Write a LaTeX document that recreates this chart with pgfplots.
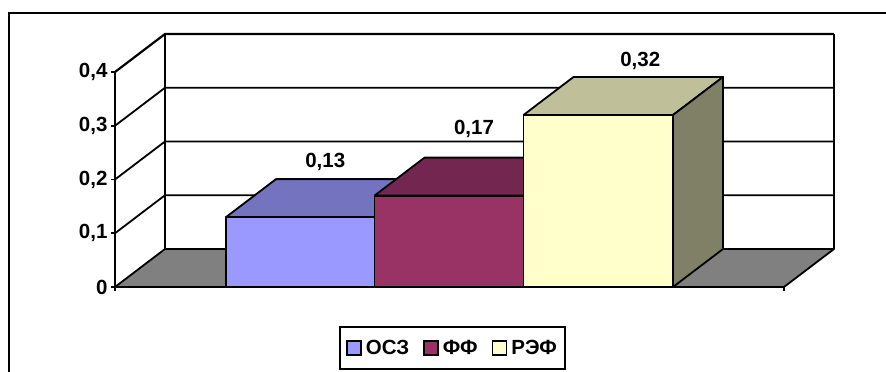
\documentclass[border=0pt]{standalone}
\usepackage{pgfplots}
\pgfplotsset{compat=1.18}
\usepackage{fontspec}
\setmainfont{Liberation Sans}
\definecolor{barA}{HTML}{9999FF}
\definecolor{barAtop}{HTML}{7373BF}
\definecolor{barB}{HTML}{993366}
\definecolor{barBtop}{HTML}{732650}
\definecolor{barC}{HTML}{FFFFCC}
\definecolor{barCtop}{HTML}{BFBF99}
\definecolor{barCside}{HTML}{808066}
\definecolor{floorgray}{HTML}{808080}
\newcommand{\chartfont}{\fontsize{20.5}{24}\selectfont\bfseries}
\begin{document}
\begin{tikzpicture}[x=1pt,y=1pt]
\useasboundingbox (0,0) rectangle (886,372);
% outer chart frame, open towards the right and bottom edges
\draw[line width=2pt] (9,0) -- (9,359) -- (886,359);

% perspective part: x along the front edge, y is depth, z is the value
\begin{axis}[
  anchor=origin, at={(115pt,85pt)},
  x={(1pt,0pt)}, y={(50pt,38pt)}, z={(0pt,537.5pt)},
  xmin=0, xmax=669, ymin=0, ymax=1, zmin=0, zmax=0.4,
  hide axis, clip=false, no markers,
  every axis plot/.append style={line width=1.8pt, line join=round, solid},
]
% floor
\addplot3[fill=floorgray, draw=black] coordinates {(0,0,0) (669,0,0) (669,1,0) (0,1,0) (0,0,0)};
% walls and grid lines
\addplot3[black] coordinates {(0,0,0.1) (0,1,0.1) (669,1,0.1)};
\addplot3[black] coordinates {(0,0,0.2) (0,1,0.2) (669,1,0.2)};
\addplot3[black] coordinates {(0,0,0.3) (0,1,0.3) (669,1,0.3)};
\addplot3[black, line width=2.2pt] coordinates {(0,0,0.4) (0,1,0.4) (669,1,0.4)};
\addplot3[black] coordinates {(0,1,0) (0,1,0.4)};
\addplot3[black] coordinates {(669,1,0) (669,1,0.4)};
% ОСЗ
\addplot3[fill=barAtop, draw=black] coordinates {(111,0,0.13) (259.5,0,0.13) (259.5,1,0.13) (111,1,0.13) (111,0,0.13)};
\addplot3[fill=barA, draw=black] coordinates {(111,0,0) (259.5,0,0) (259.5,0,0.13) (111,0,0.13) (111,0,0)};
% ФФ
\addplot3[fill=barBtop, draw=black] coordinates {(259.5,0,0.17) (408.5,0,0.17) (408.5,1,0.17) (259.5,1,0.17) (259.5,0,0.17)};
\addplot3[fill=barB, draw=black] coordinates {(259.5,0,0) (408.5,0,0) (408.5,0,0.17) (259.5,0,0.17) (259.5,0,0)};
% РЭФ
\addplot3[fill=barCtop, draw=black] coordinates {(408.5,0,0.32) (558,0,0.32) (558,1,0.32) (408.5,1,0.32) (408.5,0,0.32)};
\addplot3[fill=barCside, draw=black] coordinates {(558,0,0) (558,1,0) (558,1,0.32) (558,0,0.32) (558,0,0)};
\addplot3[fill=barC, draw=black] coordinates {(408.5,0,0) (558,0,0) (558,0,0.32) (408.5,0,0.32) (408.5,0,0)};
% value labels above each bar
\node[font=\chartfont] at (axis cs:185.25,0.5,0.13) [yshift=36pt] {0,13};
\node[font=\chartfont] at (axis cs:334,0.5,0.17) [yshift=48pt] {0,17};
\node[font=\chartfont] at (axis cs:483.25,0.5,0.32) [yshift=35pt, xshift=17pt] {0,32};
\end{axis}

% value scale, front edge and legend
\begin{axis}[
  anchor=origin, at={(115pt,85pt)},
  x=1pt, y=537.5pt,
  xmin=0, xmax=669, ymin=0, ymax=0.4,
  axis x line=bottom, axis y line=left,
  axis line style={-, line width=2pt},
  xtick={0,669}, xticklabels={}, 
  ytick={0,0.1,0.2,0.3,0.4},
  yticklabels={0,{0,1},{0,2},{0,3},{0,4}},
  tick align=outside, major tick length=4pt,
  tick style={line width=1.8pt, black},
  tick label style={font=\chartfont},
  clip=false,
  legend columns=3,
  legend cell align=left,
  legend style={
    at={(0.5045,-0.2837)}, anchor=center,
    draw=black, line width=2pt,
    font=\chartfont, inner xsep=6pt, inner ysep=11pt,
    /tikz/every even column/.style={column sep=12pt},
    nodes={inner xsep=2pt, inner ysep=2pt},
  },
  legend image code/.code={\draw[#1, line width=1.8pt] (0pt,-7pt) rectangle (14pt,7pt);},
]
\addlegendimage{fill=barA, draw=black}
\addlegendentry{\hspace{2pt}ОСЗ}
\addlegendimage{fill=barB, draw=black}
\addlegendentry{\hspace{2pt}ФФ}
\addlegendimage{fill=barC, draw=black}
\addlegendentry{\hspace{2pt}РЭФ\hspace{15pt}}
\end{axis}
\end{tikzpicture}
\end{document}
